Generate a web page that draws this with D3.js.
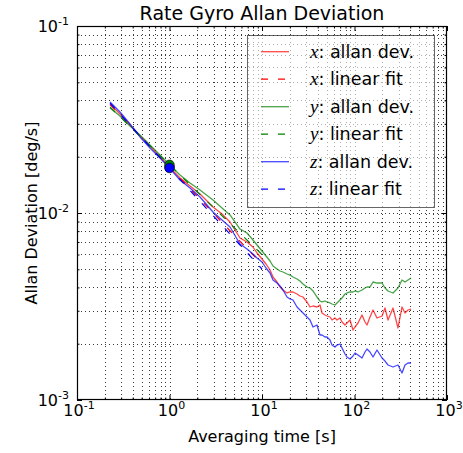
<!DOCTYPE html>
<html>
<head>
<meta charset="utf-8">
<script src="https://cdn.jsdelivr.net/npm/d3@7"></script>
<style>
  html, body { margin: 0; padding: 0; background: #fff; }
  svg { display: block; }
  text { font-family: "DejaVu Sans", sans-serif; fill: #000; }
</style>
</head>
<body>
<svg id="chart" width="463" height="453"></svg>
<script>
// Averaging times [s]
const tau = [0.2275, 0.2916, 0.3741, 0.4799, 0.6155, 0.7897, 1.0, 1.299, 1.666, 2.137,
  2.953, 3.695, 4.510, 5.783, 6.885, 7.991, 8.833, 10.0, 11.05, 12.21,
  13.15, 14.53, 15.65, 16.87, 18.63, 20.08, 21.63, 23.90, 25.75, 27.75,
  30.65, 33.03, 35.59, 39.31, 42.36, 44.52, 47.98, 50.43, 54.34, 57.12,
  61.55, 64.70, 69.71, 73.27, 78.96, 82.98, 89.43, 96.33, 101.3, 109.1,
  120.5, 129.9, 136.5, 147.1, 158.5, 175.1, 198.4, 213.7, 230.3, 260.9,
  295.3, 326.2, 351.5, 378.8, 408.1];

// Allan deviation per axis [deg/s]
const sigmaX = [0.03828, 0.03384, 0.02955, 0.02581, 0.02282, 0.01993, 0.01760, 0.01539, 0.01394, 0.01264,
  0.01077, 0.009878, 0.008949, 0.007350, 0.006997, 0.006579, 0.006111, 0.005676, 0.005337, 0.004957,
  0.004547, 0.004276, 0.004020, 0.003875, 0.003735, 0.003781, 0.003781, 0.003689, 0.003599, 0.003555,
  0.003343, 0.003143, 0.003182, 0.003143, 0.003221, 0.002919, 0.002848, 0.002813, 0.002779, 0.002679,
  0.002745, 0.002679, 0.002745, 0.002613, 0.002518, 0.002581, 0.002679, 0.002368, 0.002457, 0.002581,
  0.002848, 0.002613, 0.002518, 0.002779, 0.003029, 0.002745, 0.002813, 0.003105, 0.002679, 0.003105,
  0.002427, 0.003143, 0.002919, 0.003029, 0.003066];

const sigmaY = [0.03643, 0.03302, 0.02919, 0.02613, 0.02310, 0.02043, 0.01810, 0.01597, 0.01447, 0.01327,
  0.01174, 0.01064, 0.009757, 0.008209, 0.007815, 0.007171, 0.006744, 0.006263, 0.005889, 0.005538,
  0.005207, 0.005018, 0.004896, 0.004836, 0.004718, 0.004660, 0.004547, 0.004436, 0.004329, 0.004172,
  0.004020, 0.003971, 0.003828, 0.003555, 0.003384, 0.003343, 0.003384, 0.003343, 0.003302, 0.003261,
  0.003221, 0.003302, 0.003426, 0.003511, 0.003689, 0.003735, 0.003781, 0.003781, 0.003828, 0.003781,
  0.003875, 0.003971, 0.004020, 0.004020, 0.004276, 0.004223, 0.004223, 0.003971, 0.003828, 0.003735,
  0.003971, 0.004382, 0.004276, 0.004382, 0.004491];

const sigmaZ = [0.03924, 0.03469, 0.02991, 0.02550, 0.02227, 0.01968, 0.01740, 0.01501, 0.01360, 0.01218,
  0.01012, 0.009172, 0.008414, 0.006827, 0.006420, 0.006036, 0.005746, 0.005470, 0.005081, 0.004777,
  0.004382, 0.004223, 0.004070, 0.003875, 0.003555, 0.003469, 0.003426, 0.003143, 0.003029, 0.002919,
  0.002779, 0.002679, 0.002457, 0.002518, 0.002227, 0.002227, 0.002172, 0.002172, 0.002094, 0.001968,
  0.001920, 0.001968, 0.001993, 0.001897, 0.001762, 0.001698, 0.001657, 0.001719, 0.001784, 0.001740,
  0.001677, 0.001806, 0.001874, 0.001806, 0.001698, 0.001851, 0.001677, 0.001616, 0.001539, 0.001501,
  0.001539, 0.001394, 0.001539, 0.001577, 0.001577];

// Angle random walk fits: sigma(tau) = N * tau^slope, N is the fit value at tau = 1 s
const fitN = [0.0176, 0.0181, 0.0174];
const fitSlope = [-0.52, -0.48, -0.54];
const fitTau = [0.2275, 10];

// Axis ticks
const xMajor = [0.1, 1, 10, 100, 1000];
const xExp = ["-1", "0", "1", "2", "3"];
const yMajor = [0.001, 0.01, 0.1];
const yExp = ["-3", "-2", "-1"];

const axisNames = ["x", "y", "z"];
const colors = ["#ff0000", "#008000", "#0000ff"];

const svg = d3.select("#chart");
const L = 77, R = 447, T = 26, B = 400;

const x = d3.scaleLog().domain([0.1, 1000]).range([L, R]);
const y = d3.scaleLog().domain([0.001, 0.1]).range([B, T]);

function minors(lo, hi) {
  const out = [];
  for (let e = lo; e < hi; e++) for (let k = 2; k <= 9; k++) out.push(k * Math.pow(10, e));
  return out;
}
const xMinor = minors(-1, 3);
const yMinor = minors(-3, -1);

// grid (major + minor), dotted
const grid = svg.append("g");
grid.selectAll("line.gx").data(xMinor.concat(xMajor.slice(1, -1))).join("line")
  .attr("x1", d => Math.round(x(d)) + 0.5).attr("x2", d => Math.round(x(d)) + 0.5)
  .attr("y1", T).attr("y2", B)
  .attr("stroke", "#222").attr("stroke-width", 0.9).attr("stroke-dasharray", "1,3");
grid.selectAll("line.gy").data(yMinor.concat(yMajor.slice(1, -1))).join("line")
  .attr("y1", d => Math.round(y(d)) + 0.5).attr("y2", d => Math.round(y(d)) + 0.5)
  .attr("x1", L).attr("x2", R)
  .attr("stroke", "#222").attr("stroke-width", 0.9).attr("stroke-dasharray", "1,3");

// data
svg.append("defs").append("clipPath").attr("id", "plotclip")
  .append("rect").attr("x", L).attr("y", T).attr("width", R - L).attr("height", B - T);
const plot = svg.append("g").attr("clip-path", "url(#plotclip)");

const line = d3.line().x(d => x(d[0])).y(d => y(d[1]));
const sigmas = [sigmaX, sigmaY, sigmaZ];

sigmas.forEach((s, i) => {
  plot.append("path")
    .attr("d", line(tau.map((t, j) => [t, s[j]])))
    .attr("fill", "none").attr("stroke", colors[i]).attr("stroke-opacity", 0.72)
    .attr("stroke-width", 1.3).attr("stroke-linejoin", "round");
  const fitPts = fitTau.map(t => [t, fitN[i] * Math.pow(t, fitSlope[i])]);
  plot.append("path")
    .attr("d", line(fitPts))
    .attr("fill", "none").attr("stroke", colors[i]).attr("stroke-width", 1.2)
    .attr("stroke-dasharray", "7,10");
});

sigmas.forEach((s, i) => {
  plot.append("circle")
    .attr("cx", x(1)).attr("cy", y(fitN[i])).attr("r", 4.8)
    .attr("fill", colors[i]).attr("stroke", "#000").attr("stroke-width", 0.6);
});

// axes: inward ticks on all four sides
function tickAxis(gen, scale, pos, vals, size) {
  const g = svg.append("g").attr("transform", pos)
    .call(gen(scale).tickValues(vals).tickSize(size).tickFormat(""));
  g.select(".domain").remove();
  g.selectAll(".tick line").attr("stroke", "#000").attr("stroke-width", 1);
  return g;
}
tickAxis(d3.axisBottom, x, `translate(0,${B})`, xMajor, -5);
tickAxis(d3.axisBottom, x, `translate(0,${B})`, xMinor, -2.5);
tickAxis(d3.axisTop, x, `translate(0,${T})`, xMajor, -5);
tickAxis(d3.axisTop, x, `translate(0,${T})`, xMinor, -2.5);
tickAxis(d3.axisLeft, y, `translate(${L},0)`, yMajor, -5);
tickAxis(d3.axisLeft, y, `translate(${L},0)`, yMinor, -2.5);
tickAxis(d3.axisRight, y, `translate(${R},0)`, yMajor, -5);
tickAxis(d3.axisRight, y, `translate(${R},0)`, yMinor, -2.5);

svg.append("rect").attr("x", L + 0.5).attr("y", T + 0.5)
  .attr("width", R - L - 1).attr("height", B - T - 1)
  .attr("fill", "none").attr("stroke", "#000").attr("stroke-width", 1.2);

// tick labels 10^n
xMajor.forEach((v, i) => {
  const t = svg.append("text").attr("x", x(v) + 2).attr("y", 416)
    .attr("text-anchor", "middle").style("font-size", "16px");
  t.append("tspan").text("10");
  t.append("tspan").attr("dy", -7).style("font-size", "11px").text(xExp[i]);
});
yMajor.forEach((v, i) => {
  const t = svg.append("text").attr("x", 69).attr("y", y(v) + 5.5)
    .attr("text-anchor", "end").style("font-size", "16px");
  t.append("tspan").text("10");
  t.append("tspan").attr("dy", -7).style("font-size", "11px").text(yExp[i]);
});

// titles
svg.append("text").attr("x", (L + R) / 2).attr("y", 20).attr("text-anchor", "middle")
  .style("font-size", "19px").text("Rate Gyro Allan Deviation");
svg.append("text").attr("x", (L + R) / 2).attr("y", 442).attr("text-anchor", "middle")
  .style("font-size", "16px").text("Averaging time [s]");
svg.append("text").attr("transform", `translate(37,${(T + B) / 2}) rotate(-90)`)
  .attr("text-anchor", "middle").style("font-size", "16px").text("Allan Deviation [deg/s]");

// legend
const leg = svg.append("g");
leg.append("rect").attr("x", 247.5).attr("y", 35.5).attr("width", 187).attr("height", 172)
  .attr("fill", "#fff").attr("fill-opacity", 0.6)
  .attr("stroke", "#000").attr("stroke-opacity", 0.6).attr("stroke-width", 1);
const rows = [];
axisNames.forEach((a, i) => {
  rows.push({ a, color: colors[i], dash: null, label: ": allan dev." });
  rows.push({ a, color: colors[i], dash: "7,10", label: ": linear fit" });
});
rows.forEach((r, k) => {
  const cy = 51.7 + k * 27.5;
  leg.append("line").attr("x1", 261).attr("x2", 289).attr("y1", cy).attr("y2", cy)
    .attr("stroke", r.color).attr("stroke-width", 1.3)
    .attr("stroke-opacity", r.dash ? 1 : 0.72)
    .attr("stroke-dasharray", r.dash);
  const t = leg.append("text").attr("x", 310).attr("y", cy + 6).style("font-size", "17.5px");
  t.append("tspan").style("font-family", "'Liberation Serif', serif").style("font-style", "italic")
    .style("font-size", "19px").text(r.a);
  t.append("tspan").text(r.label);
});
</script>
</body>
</html>
